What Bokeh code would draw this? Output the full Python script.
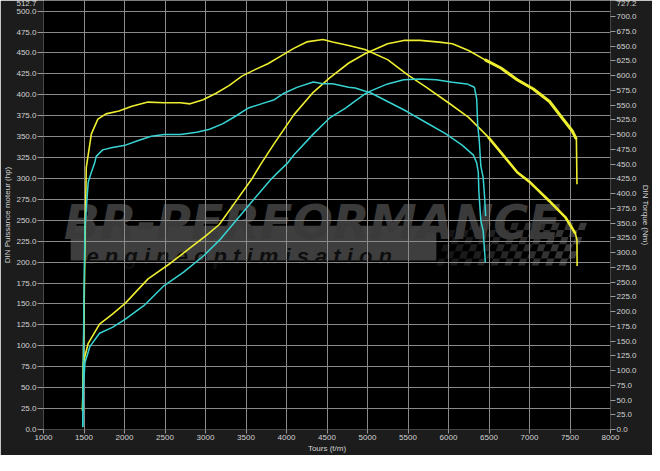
from bokeh.plotting import figure
from bokeh.models import Range1d, LinearAxis, FixedTicker, NumeralTickFormatter
from bokeh.core.properties import value
from bokeh.embed import file_html
from bokeh.resources import INLINE

# ---------------- data ----------------
rpm_ticks = [1000, 1500, 2000, 2500, 3000, 3500, 4000, 4500, 5000,
             5500, 6000, 6500, 7000, 7500, 8000]
hp_ticks = [0, 25, 50, 75, 100, 125, 150, 175, 200, 225, 250, 275, 300,
            325, 350, 375, 400, 425, 450, 475, 500, 512.7]
nm_ticks = [0, 25, 50, 75, 100, 125, 150, 175, 200, 225, 250, 275, 300,
            325, 350, 375, 400, 425, 450, 475, 500, 525, 550, 575, 600,
            625, 650, 675, 700, 727.2]

# tuned (yellow) power, hp
tuned_power_rpm = [1482, 1492, 1552, 1692, 1851, 2011, 2291, 2571, 2810, 3011,
                   3170, 3370, 3569, 3689, 3850, 4090, 4330, 4529, 4769, 4969,
                   5248, 5448, 5649, 5888, 6048, 6248, 6447, 6647, 6848, 7047,
                   7247, 7406, 7526, 7579, 7586]
tuned_power_hp = [22, 80, 103, 126, 138, 151, 180, 199, 217, 232,
                  245, 272, 299, 318, 342, 376, 403, 420, 438, 449,
                  461, 465, 465, 463, 461, 453, 442, 432, 418, 407,
                  392, 372, 357, 347, 293]

# tuned (yellow) torque, Nm
tuned_torque_rpm = [1482, 1492, 1504, 1516, 1528, 1591, 1671, 1771, 1932, 2091,
                    2291, 2490, 2691, 2810, 2970, 3131, 3290, 3450, 3611, 3770,
                    3929, 4090, 4249, 4450, 4569, 4768, 4968, 5248, 5488, 5728,
                    6008, 6248, 6488, 6687, 6848, 7007, 7247, 7447, 7567, 7586,
                    7588]
tuned_torque_nm = [32, 113, 234, 343, 444, 501, 526, 535, 540, 548,
                   555, 554, 554, 552, 559, 570, 583, 599, 610, 620,
                   633, 646, 657, 661, 657, 651, 644, 627, 602, 580,
                   553, 529, 496, 463, 436, 419, 387, 359, 332, 321,
                   277]

# stock (cyan) power, hp
stock_power_rpm = [1485, 1492, 1512, 1572, 1692, 1851, 2011, 2251, 2490, 2730,
                   2970, 3170, 3370, 3569, 3809, 3890, 4009, 4090, 4330, 4529,
                   4729, 4969, 5049, 5248, 5448, 5649, 5848, 6048, 6228, 6320,
                   6348, 6360, 6380, 6399, 6428, 6447, 6459]
stock_power_hp = [3, 49, 80, 99, 115, 122, 132, 149, 172, 188,
                  207, 226, 249, 272, 299, 307, 318, 328, 353, 372,
                  384, 401, 405, 413, 418, 419, 418, 415, 413, 409,
                  395, 365, 345, 315, 301, 276, 255]

# stock (cyan) torque, Nm
stock_torque_rpm = [1485, 1492, 1500, 1512, 1552, 1591, 1632, 1651, 1731, 1851,
                    2011, 2171, 2331, 2490, 2691, 2891, 3050, 3210, 3370, 3530,
                    3689, 3850, 3970, 4129, 4330, 4450, 4569, 4768, 4849, 5049,
                    5248, 5488, 5728, 5968, 6168, 6308, 6348, 6368, 6375, 6399,
                    6428, 6455]
stock_torque_nm = [4, 113, 234, 343, 419, 436, 452, 463, 474, 478,
                   482, 490, 497, 500, 500, 504, 509, 518, 531, 545,
                   552, 559, 570, 580, 589, 586, 586, 580, 579, 570,
                   556, 539, 520, 501, 482, 465, 452, 436, 403, 354,
                   337, 283]

YELLOW = "#eeee30"
CYAN = "#38d3d3"
TEXT = "#d2d2d2"
TICK = "#9a9a9a"
FONT = "Liberation Sans"

p = figure(width=652, height=455,
           x_range=Range1d(1000, 8000), y_range=Range1d(0, 512.7),
           output_backend="svg", toolbar_location=None,
           background_fill_color="black", border_fill_color="#1c1c1c",
           outline_line_color=None,
           min_border_top=0, min_border_left=0, min_border_right=0,
           min_border_bottom=0)
p.extra_y_ranges = {"torque": Range1d(0, 727.2)}

p.xaxis.ticker = FixedTicker(ticks=rpm_ticks)
p.yaxis.ticker = FixedTicker(ticks=hp_ticks)
p.yaxis.formatter = NumeralTickFormatter(format="0.0")
p.xaxis.axis_label = "Tours (t/m)"
p.yaxis.axis_label = "DIN Puissance moteur (hp)"

right = LinearAxis(y_range_name="torque", axis_label="DIN Torque (Nm)",
                   ticker=FixedTicker(ticks=nm_ticks),
                   formatter=NumeralTickFormatter(format="0.0"))
p.add_layout(right, "right")

for ax in [p.xaxis[0], p.yaxis[0], right]:
    ax.axis_line_color = None
    ax.major_tick_line_color = TICK
    ax.minor_tick_line_color = None
    ax.major_tick_in = 0
    ax.major_label_text_color = TEXT
    ax.major_label_text_font = FONT
    ax.major_label_text_font_size = "8px"
    ax.axis_label_text_color = TEXT
    ax.axis_label_text_font = FONT
    ax.axis_label_text_font_size = "8px"
    ax.axis_label_text_font_style = "normal"
    ax.axis_label_standoff = 1
p.xaxis.major_tick_out = 4
p.xaxis.major_label_standoff = 1
p.yaxis[0].major_tick_out = 6
p.yaxis[0].major_label_standoff = 1
right.major_tick_out = 5
right.major_label_standoff = 1

p.xgrid.grid_line_color = "#8a8a8a"
p.ygrid.grid_line_color = "#8a8a8a"
p.xgrid.grid_line_width = 1
p.ygrid.grid_line_width = 1

# ---------------- watermark (decoration, below the grid) ----------------
WM = "#3a3a3a"
p.quad(left=[1336], right=[5850], bottom=[202], top=[243.5],
       fill_color="#3e3e3e", line_color=None, level="image")
p.text(x=[1250], y=[247], text=["BR-PERFORMANCE"],
       text_font=value("DejaVu Sans"), text_font_style="bold italic",
       text_font_size="47.5px", text_color=WM, text_baseline="alphabetic",
       level="image")
p.text(x=[1530], y=[207], text=["e n g i n e   o p t i m i s a t i o n"],
       text_font=value("Liberation Sans"), text_font_style="bold italic",
       text_font_size="22px", text_color="#0e0e0e", text_baseline="alphabetic",
       level="image")
xs, ys, alphas = [], [], []
cols, rows = 20, 6
x0, y0, cw, ch = 5850, 196, 84, 8.5
for i in range(cols):
    for j in range(rows):
        if (i + j) % 2 == 0:
            sk = 30
            l = x0 + i * cw + j * sk
            b = y0 + j * ch
            xs.append([l, l + cw, l + cw + sk, l + sk])
            ys.append([b, b, b + ch, b + ch])
            alphas.append(0.35 + 0.65 * i / (cols - 1))
p.patches(xs=xs, ys=ys, fill_color=WM, fill_alpha=alphas, line_color=None,
          level="image")

# ---------------- curves ----------------
p.line(tuned_power_rpm, tuned_power_hp, line_color=YELLOW, line_width=1.6)
p.line(tuned_torque_rpm, tuned_torque_nm, line_color=YELLOW, line_width=1.6,
       y_range_name="torque")
# noisy high-rpm part of the tuned run drawn heavier
p.line(tuned_power_rpm[26:34], tuned_power_hp[26:34], line_color=YELLOW,
       line_width=3)
p.line(tuned_torque_rpm[32:39], tuned_torque_nm[32:39], line_color=YELLOW,
       line_width=2.6, y_range_name="torque")
p.line(stock_power_rpm, stock_power_hp, line_color=CYAN, line_width=1.5)
p.line(stock_torque_rpm, stock_torque_nm, line_color=CYAN, line_width=1.5,
       y_range_name="torque")

open("out.html", "w").write(file_html(p, INLINE))
